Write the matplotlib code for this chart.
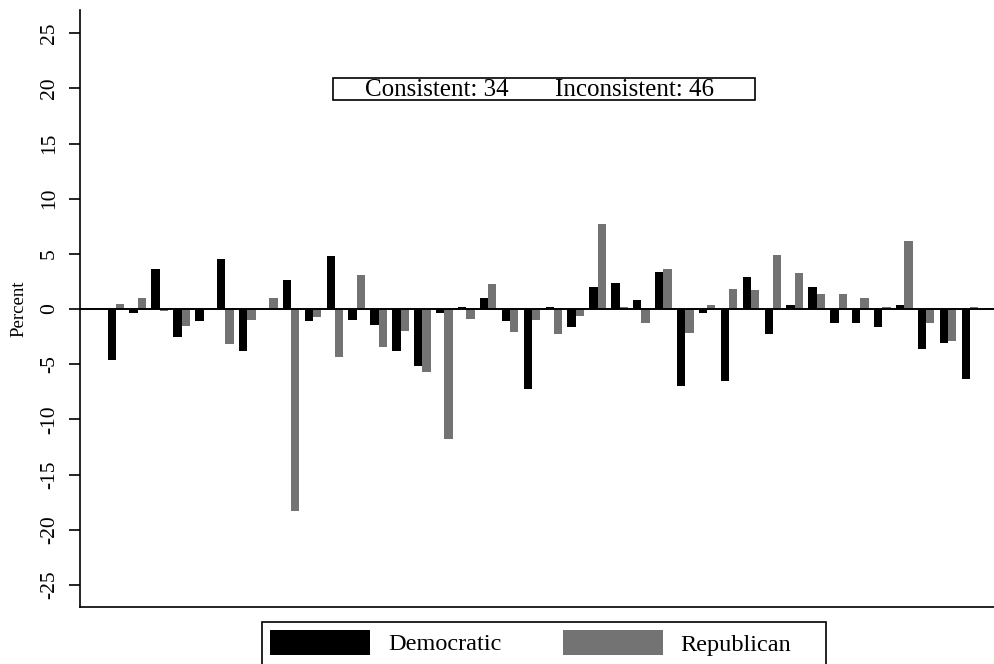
import matplotlib
matplotlib.use("Agg")
import matplotlib.pyplot as plt
from matplotlib.patches import Rectangle
import numpy as np

plt.rcParams["font.family"] = ["Liberation Serif", "DejaVu Serif"]

# Percent change by state, two parties
democratic = [-4.6, -0.4, 3.6, -2.5, -1.1, 4.5, -3.8, 0.0, 2.6, -1.1,
              4.8, -1.0, -1.4, -3.8, -5.2, -0.4, 0.2, 1.0, -1.1, -7.2,
              0.2, -1.6, 2.0, 2.4, 0.8, 3.4, -7.0, -0.4, -6.5, 2.9,
              -2.3, 0.4, 2.0, -1.3, -1.3, -1.6, 0.4, -3.6, -3.1, -6.3]
republican = [0.5, 1.0, -0.2, -1.5, 0.0, -3.2, -1.0, 1.0, -18.3, -0.7,
              -4.3, 3.1, -3.4, -2.0, -5.7, -11.8, -0.9, 2.3, -2.1, -1.0,
              -2.3, -0.6, 7.7, 0.2, -1.3, 3.6, -2.2, 0.4, 1.8, 1.7,
              4.9, 3.3, 1.4, 1.4, 1.0, 0.2, 6.2, -1.3, -2.9, 0.2]
yticks = [-25, -20, -15, -10, -5, 0, 5, 10, 15, 20, 25]
consistent_n = 34
inconsistent_n = 46

W, H = 994, 664
fig = plt.figure(figsize=(W / 100, H / 100), dpi=100)
ax = fig.add_axes([80 / W, 1 - 607 / H, 1 - 80 / W, (607 - 10) / H])

x = np.arange(len(democratic))
bw = 0.38
ax.bar(x - bw / 2, democratic, width=bw, color="black", linewidth=0)
ax.bar(x + bw / 2, republican, width=bw, color="#737373", linewidth=0)
ax.axhline(0, color="black", linewidth=1.4)

ax.set_xlim(-1.64, 40.1)
ax.set_ylim(-27.0, 27.1)
ax.set_xticks([])
ax.set_yticks(yticks)
ax.set_yticklabels([str(t) for t in yticks], rotation=90, va="center", fontsize=15.5)
ax.tick_params(axis="y", direction="out", length=8, width=1.2, pad=7)
ax.set_ylabel("Percent", fontsize=13.5, labelpad=9)
for side in ("top", "right"):
    ax.spines[side].set_visible(False)
for side in ("left", "bottom"):
    ax.spines[side].set_linewidth(1.2)

# Summary box
fig.add_artist(Rectangle((333 / W, 1 - 100 / H), 422 / W, 22 / H,
                         transform=fig.transFigure, facecolor="white",
                         edgecolor="black", linewidth=1.2))
fig.text(365 / W, 1 - 90 / H, f"Consistent: {consistent_n}", fontsize=18,
         va="center", ha="left")
fig.text(555 / W, 1 - 90 / H, f"Inconsistent: {inconsistent_n}", fontsize=18,
         va="center", ha="left")

# Legend
fig.add_artist(Rectangle((262 / W, -0.02), 564 / W, 0.02 + 1 - 622 / H,
                         transform=fig.transFigure, facecolor="white",
                         edgecolor="black", linewidth=1.2, clip_on=False))
fig.add_artist(Rectangle((270 / W, 1 - 655 / H), 100 / W, 25 / H,
                         transform=fig.transFigure, facecolor="black",
                         edgecolor="none"))
fig.text(388 / W, 1 - 645 / H, "Democratic", fontsize=17.5, va="center", ha="left")
fig.add_artist(Rectangle((563 / W, 1 - 655 / H), 100 / W, 25 / H,
                         transform=fig.transFigure, facecolor="#737373",
                         edgecolor="none"))
fig.text(680 / W, 1 - 645 / H, "Republican", fontsize=17.5, va="center", ha="left")

fig.savefig("out.png", dpi=100)
